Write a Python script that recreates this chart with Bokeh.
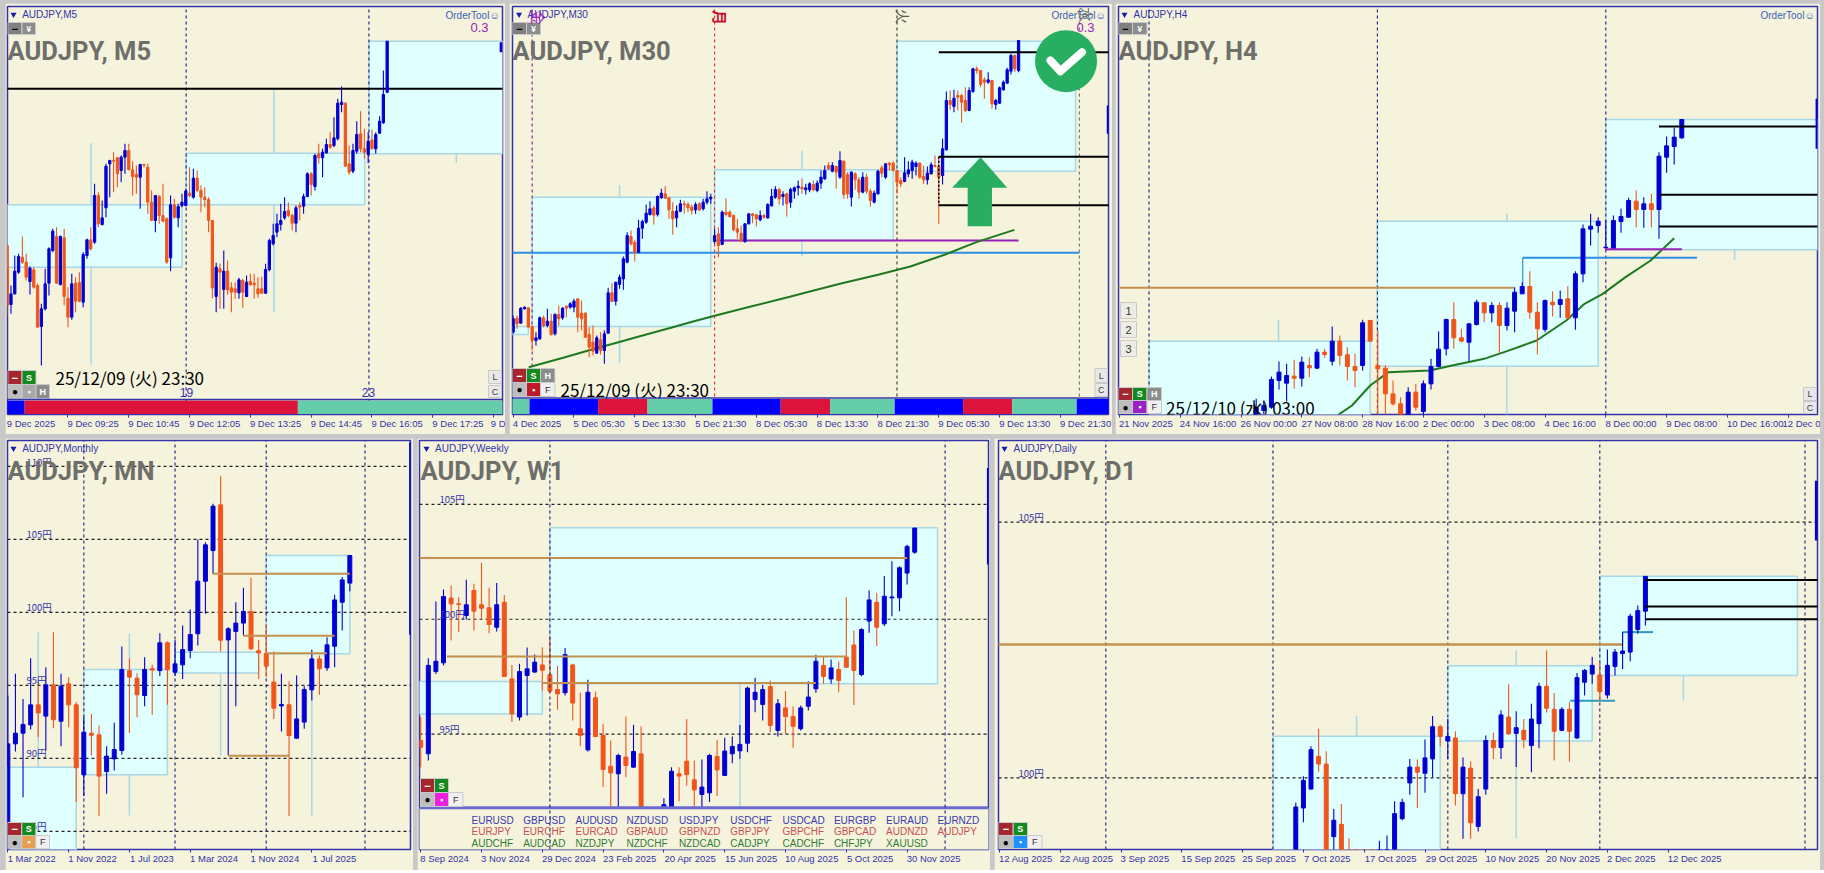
from bokeh.plotting import figure, ColumnDataSource
from bokeh.layouts import column, row
from bokeh.models import Range1d, FixedTicker, LinearAxis
from bokeh.core.properties import value
from bokeh.embed import file_html
from bokeh.resources import INLINE

# ---------- data (intraday panels are in points above 100.000 yen) ----------
m5_open = [3265,3088,3120,3185,3230,3215,3157,3192,3145,3022,3075,3152,3250,3292,3148,3288,3107,3050,3152,3154,3095,3235,3282,3275,3415,3328,3378,3510,3520,3528,3490,3530,3550,3492,3478,3470,3508,3500,3395,3340,3413,3355,3345,3228,3387,3348,3385,3385,3422,3410,3467,3430,3410,3403,3340,3112,3195,3133,3188,3138,3135,3123,3160,3112,3157,3152,3135,3135,3122,3192,3270,3305,3328,3348,3370,3355,3332,3385,3383,3412,3480,3442,3540,3528,3543,3568,3565,3585,3688,3692,3510,3488,3548,3600,3555,3538,3582,3555,3602,3633,3725]
m5_high = [3270,3145,3235,3240,3292,3240,3203,3200,3150,3090,3195,3260,3315,3320,3295,3315,3140,3180,3170,3185,3245,3285,3320,3450,3425,3400,3510,3522,3545,3530,3535,3570,3570,3518,3505,3510,3510,3510,3430,3415,3415,3450,3350,3415,3405,3390,3420,3435,3500,3495,3490,3445,3440,3410,3340,3213,3210,3250,3220,3155,3155,3168,3165,3175,3180,3180,3170,3172,3210,3285,3330,3360,3390,3410,3395,3360,3385,3395,3420,3485,3485,3540,3570,3555,3585,3605,3650,3705,3742,3695,3565,3570,3638,3668,3615,3605,3612,3605,3653,3790,3878]
m5_low = [3055,3060,3118,3180,3210,3160,3118,3135,3020,2905,3070,3115,3245,3150,3145,3085,3020,3042,3065,3095,3080,3225,3250,3270,3320,3325,3350,3410,3425,3440,3455,3480,3490,3415,3420,3375,3500,3360,3338,3305,3330,3335,3210,3188,3345,3320,3380,3382,3410,3405,3425,3365,3380,3305,3107,3065,3075,3075,3117,3065,3105,3105,3078,3110,3145,3105,3108,3120,3120,3188,3265,3290,3310,3342,3350,3310,3305,3340,3360,3410,3415,3430,3510,3470,3540,3555,3560,3580,3665,3502,3477,3482,3540,3545,3525,3512,3553,3540,3600,3630,3722]
m5_close = [3085,3120,3188,3232,3215,3170,3197,3140,3020,3075,3150,3255,3308,3152,3292,3112,3050,3150,3098,3098,3238,3282,3255,3415,3330,3348,3503,3520,3518,3480,3530,3550,3493,3472,3470,3508,3506,3395,3340,3415,3355,3338,3215,3387,3350,3382,3395,3428,3415,3467,3430,3410,3403,3340,3138,3200,3185,3188,3132,3125,3125,3162,3125,3155,3147,3147,3120,3122,3193,3280,3295,3330,3340,3367,3355,3332,3378,3380,3412,3480,3448,3535,3528,3545,3568,3560,3588,3692,3695,3503,3485,3550,3598,3555,3545,3578,3555,3598,3638,3718,3878]

m30_open = [3005,3047,3032,3075,3078,3022,2980,2985,3048,3025,3038,3000,3058,3048,3083,3080,3080,3105,3062,3062,2998,2975,2942,2982,2950,3002,3123,3098,3148,3165,3215,3292,3275,3245,3317,3335,3358,3378,3358,3408,3420,3408,3368,3348,3368,3390,3388,3380,3372,3390,3375,3395,3405,3277,3300,3268,3365,3365,3355,3315,3302,3277,3330,3360,3357,3342,3355,3348,3384,3410,3433,3412,3420,3395,3428,3438,3440,3432,3432,3448,3430,3452,3465,3505,3488,3502,3470,3518,3478,3410,3480,3462,3425,3470,3428,3395,3420,3498,3470,3512,3512,3490,3460,3457,3480,3490,3502,3512,3472,3462,3480,3505,3502,3475,3552,3700,3682,3715,3715,3700,3670,3727,3795,3790,3762,3755,3760,3688,3692,3732,3752,3788,3835,3790]
m30_high = [3055,3055,3080,3082,3080,3025,3005,3052,3055,3075,3060,3062,3085,3080,3085,3095,3105,3107,3100,3065,3020,3025,2995,3005,3010,3138,3152,3155,3178,3232,3305,3310,3282,3342,3342,3388,3398,3385,3415,3435,3443,3410,3395,3385,3402,3400,3395,3388,3395,3395,3405,3428,3420,3315,3320,3370,3407,3370,3358,3345,3325,3332,3362,3362,3360,3370,3360,3392,3435,3443,3438,3428,3423,3438,3442,3460,3467,3450,3455,3460,3460,3490,3505,3515,3515,3505,3548,3520,3485,3488,3485,3470,3485,3480,3435,3430,3492,3505,3512,3515,3518,3490,3470,3530,3518,3522,3518,3515,3505,3502,3515,3535,3532,3585,3727,3730,3732,3730,3720,3740,3740,3798,3802,3792,3770,3785,3762,3705,3742,3760,3798,3840,3838,3880]
m30_low = [3000,3015,3030,3073,3020,2950,2965,2982,3020,3020,2995,2995,3025,3042,3050,3075,3065,3005,3010,2988,2930,2935,2940,2938,2910,3000,3095,3085,3135,3132,3212,3265,3217,3242,3285,3330,3355,3328,3352,3405,3405,3345,3297,3320,3365,3360,3365,3358,3360,3368,3370,3388,3390,3270,3230,3268,3352,3348,3308,3285,3275,3273,3328,3332,3322,3338,3345,3345,3382,3405,3388,3385,3352,3378,3405,3415,3420,3418,3425,3428,3425,3435,3462,3490,3485,3435,3465,3405,3405,3382,3432,3405,3422,3420,3382,3392,3418,3470,3465,3490,3488,3420,3440,3455,3470,3465,3475,3465,3450,3448,3478,3500,3330,3448,3550,3672,3665,3670,3633,3665,3668,3723,3780,3740,3705,3750,3675,3673,3690,3730,3750,3778,3785,3785]
m30_close = [3045,3030,3077,3080,3020,2980,2988,3048,3025,3038,2998,3058,3045,3077,3077,3090,3098,3050,3045,2990,2960,2948,2988,2950,3000,3123,3097,3155,3170,3225,3295,3270,3245,3317,3337,3362,3375,3356,3412,3422,3407,3372,3345,3368,3390,3387,3378,3370,3388,3372,3395,3405,3410,3295,3265,3365,3358,3352,3312,3305,3280,3330,3360,3355,3345,3355,3350,3388,3412,3433,3405,3418,3390,3433,3438,3443,3435,3438,3450,3432,3452,3470,3490,3495,3505,3485,3520,3418,3420,3485,3462,3425,3470,3428,3400,3422,3488,3482,3510,3508,3490,3455,3450,3483,3492,3515,3512,3470,3462,3482,3507,3502,3470,3555,3700,3688,3707,3710,3695,3670,3730,3795,3790,3748,3755,3762,3690,3700,3738,3755,3792,3835,3795,3880]
m30_ma_bar = [4.1,13.4,20.5,27.7,33.8,42,47.1,53.3,61.5,72.8,75.8,86,96.3,104.5,113.7,121.9,131.9]
m30_ma = [2900,2929,2952,2975,2994,3020,3036,3055,3079,3111,3120,3150,3178,3202,3238,3275,3312]

h4_open = [2757,2770,2780,2860,2852,2873,2867,2905,2897,2945,2918,2978,2937,2902,2905,3040,2905,2897,2820,2790,2757,2825,2767,2850,2902,2955,3043,2988,2975,3028,3093,3063,3085,3025,3068,3120,3142,3065,3013,3095,3088,3105,3048,3180,3314,3325,3258,3255,3337,3350,3398,3373,3390,3373,3530,3562,3588]
h4_high = [2805,2800,2872,2917,2910,2922,2932,2930,2955,2955,3022,2995,2960,2940,3042,3042,3010,2905,2860,2810,2840,2850,2860,2925,3007,3045,3095,3015,3032,3102,3095,3095,3095,3095,3140,3155,3188,3095,3103,3128,3130,3143,3188,3328,3360,3350,3340,3355,3375,3408,3430,3410,3420,3545,3592,3618,3643]
h4_low = [2740,2740,2775,2833,2797,2835,2842,2870,2895,2928,2905,2905,2860,2840,2890,2978,2757,2757,2785,2740,2740,2770,2750,2833,2900,2935,2955,2975,2917,3025,3035,3035,2942,3010,3005,3120,3045,2938,3005,3052,3048,3045,3012,3155,3265,3303,3255,3252,3303,3348,3320,3318,3320,3285,3483,3508,3585]
h4_close = [2778,2785,2863,2885,2875,2867,2915,2898,2945,2938,2978,2935,2902,2890,3033,2978,2895,2820,2790,2757,2825,2780,2850,2902,2954,3043,2988,2978,3030,3095,3063,3085,3025,3077,3125,3142,3065,3015,3100,3087,3103,3048,3180,3315,3323,3338,3260,3340,3352,3400,3373,3390,3373,3533,3564,3590,3643]
h4_ma_bar = [10.8,12.6,15,17.4,22.8,25.8,30,33,36.9,40.8,43.2,45.6,48.6,51.9,55]
h4_ma = [2757,2785,2845,2885,2890,2905,2925,2948,2980,3040,3090,3120,3170,3220,3287]

mn_open = [81.75,91.00,91.73,92.30,93.67,92.90,95.04,92.55,95.11,93.67,88.88,91.73,91.62,89.11,89.97,90.54,96.02,95.50,94.31,96.14,96.02,97.92,95.91,96.41,97.39,98.54,102.14,104.24,107.37,98.12,98.70,99.27,100.07,97.37,97.21,95.23,93.60,93.67,91.39,92.49,94.70,96.82,96.21,97.69,100.70,102.01]
mn_high = [94.31,95.80,94.08,96.87,95.23,96.25,98.65,95.80,95.57,93.86,92.83,93.05,92.26,90.84,92.44,97.67,96.87,95.84,96.94,96.41,98.58,98.03,98.12,99.11,100.20,105.00,104.81,107.44,109.33,98.99,100.70,101.69,102.37,98.12,99.15,97.33,95.80,95.29,95.68,94.95,97.44,97.05,98.31,101.21,102.42,103.90]
mn_low = [80.16,90.48,87.35,91.98,91.46,90.54,92.07,90.84,92.14,87.01,87.42,90.20,86.05,87.58,89.17,90.25,91.75,92.83,93.58,92.99,95.64,93.67,95.64,95.45,96.87,97.74,99.91,102.65,97.33,90.20,93.58,98.42,97.44,95.45,95.57,92.71,91.85,86.05,91.34,92.03,93.97,94.36,96.00,96.25,98.76,101.46]
mn_close = [91.00,91.73,92.33,93.67,93.12,95.04,92.65,94.95,93.67,89.36,91.80,91.59,88.79,90.16,90.61,96.09,95.57,94.36,96.09,96.05,97.92,96.07,96.48,97.46,98.49,102.14,104.63,107.28,98.10,98.88,99.27,100.07,97.51,97.23,96.32,93.44,93.70,91.57,92.71,94.72,96.82,96.14,97.78,100.86,102.23,103.90]

w1_open = [94.72,94.14,97.72,98.10,100.92,100.67,100.16,101.25,100.63,100.50,99.65,100.74,97.40,95.74,97.55,97.70,98.01,97.58,96.94,96.80,98.01,95.23,94.31,96.58,94.94,93.60,93.27,94.00,93.56,94.14,89.71,90.15,91.45,91.16,93.27,93.82,93.01,92.37,92.44,94.02,93.20,94.14,94.27,94.60,96.50,96.29,97.07,95.16,96.14,95.76,95.23,96.21,96.97,97.99,97.40,97.81,98.35,98.88,97.59,99.92,100.74,99.80,100.93,100.93,102.01,102.92]
w1_high = [95.74,98.30,100.77,101.29,101.47,100.96,101.72,101.54,102.46,101.37,101.58,101.06,98.01,98.06,98.77,98.46,98.78,99.22,97.96,98.75,98.06,96.80,97.36,96.85,95.45,94.72,94.14,95.76,95.40,95.33,91.02,91.16,92.21,93.56,93.56,95.66,93.85,93.89,94.14,94.75,94.84,94.89,95.40,97.07,97.45,97.14,97.33,96.53,96.87,96.20,96.24,97.30,98.45,98.39,98.25,98.16,100.96,99.51,99.61,101.25,101.15,101.88,102.53,102.31,103.24,103.97]
w1_low = [93.56,93.85,97.62,97.99,99.07,99.44,99.99,99.51,100.02,99.39,99.47,97.48,95.52,95.59,95.81,97.67,96.90,96.82,96.06,96.68,95.59,94.47,94.24,94.87,92.69,91.45,91.31,93.12,93.53,90.58,89.42,89.71,90.87,91.09,92.08,92.76,91.82,91.67,92.04,92.30,93.17,93.73,93.92,94.21,95.95,95.59,95.08,94.89,95.01,94.40,95.16,96.03,96.80,97.19,97.19,96.82,97.88,96.27,97.52,99.41,98.83,99.70,100.13,100.35,101.51,102.85]
w1_close = [94.43,97.99,98.17,100.99,100.67,100.64,100.63,100.35,100.48,99.77,100.63,97.51,95.88,97.72,97.84,98.13,97.78,96.87,96.75,98.46,96.35,94.94,96.82,94.89,93.46,93.31,94.07,93.63,94.24,90.87,90.58,90.87,91.93,93.38,93.17,93.24,92.57,92.69,94.07,93.44,94.26,94.46,94.55,97.00,96.82,96.94,95.37,96.32,95.76,95.34,96.14,96.61,98.17,97.51,97.88,97.33,97.91,97.77,99.55,100.84,99.65,101.00,100.97,102.24,103.17,103.97]

d1_open = [98.35,99.41,99.78,100.42,100.27,98.85,99.09,98.55,98.48,98.48,98.48,98.29,98.29,98.29,99.20,99.90,100.21,100.09,100.37,101.00,100.72,100.78,99.69,100.19,99.05,99.78,100.73,100.59,101.19,100.87,100.93,100.63,101.06,101.79,101.34,100.93,101.34,100.78,101.87,102.03,102.01,101.62,102.18,102.43,102.46,102.90,103.26]
d1_high = [99.52,100.03,100.62,100.96,100.52,99.39,99.49,98.82,98.48,98.48,98.61,98.77,98.87,99.54,99.59,100.37,100.36,100.75,101.21,101.04,101.15,100.91,100.40,100.32,99.78,100.83,100.88,101.32,101.83,101.30,101.15,101.45,101.86,102.49,101.66,101.38,101.48,102.05,102.13,102.37,102.26,102.51,102.52,102.85,103.21,103.37,103.94]
d1_low = [98.29,99.13,99.77,100.12,98.22,98.22,98.29,98.22,98.22,98.22,98.29,98.22,98.22,98.22,99.17,99.67,99.41,99.71,100.01,100.62,100.37,99.46,98.81,98.81,98.95,99.67,100.37,100.37,100.84,100.21,100.58,100.11,100.58,101.28,100.34,100.91,100.32,100.76,101.61,101.84,101.51,101.55,102.00,102.13,102.28,102.82,102.98]
d1_close = [99.43,99.95,100.55,100.27,98.22,99.17,98.35,98.42,98.35,98.35,98.35,98.42,98.42,99.30,99.52,100.21,100.11,100.39,101.00,100.81,100.81,99.69,100.21,99.12,99.63,100.73,100.59,101.23,100.86,100.98,100.75,101.15,101.79,101.36,100.91,101.34,100.91,101.96,102.10,102.20,101.69,102.20,102.46,102.48,103.16,103.27,103.94]

# boxes: left bar, right bar, top, bottom
m5_boxes = [(-5,46,3387,3200),(47.1,94.1,3542,3387),(95.2,135,3878,3540)]
m5_box_wicks = [(22.1,3572,2908),(70.2,3735,3065),(118.2,3878,3513)]
m30_boxes = [(-5,4,3022,2998),(5,52,3410,3022),(53,100,3492,3280),(101,148,3878,3488)]
m30_box_wicks = [(28,3445,2912),(76,3550,3232)]
h4_boxes = [(-14.1,15,2978,2700),(15.95,45,3338,2903),(46,76.7,3643,3252)]
h4_box_wicks = [(2.94,3042,2978),(32.97,3362,2757),(62.95,3252,3222)]
mn_boxes = [(-3,9,89.40,82.44),(10,21,96.09,88.88),(22,33,97.28,95.86),(34,45,103.90,97.17)]
mn_box_wicks = [(4,98.65,89.40),(16,98.54,86.09),(28,97.28,90.20),(40,97.44,86.09),(9,89.40,82.44)]
w1_boxes = [(-3,16,97.29,95.87),(17,68,103.98,97.19)]
w1_box_wicks = [(42,97.19,91.79)]
d1_boxes = [(-3,19,100.815,98.22),(20,39,102.19,100.72),(40,66,103.94,102.00)]
d1_box_wicks = [(8,101.21,100.815),(29,102.49,98.82),(51,102.00,101.51)]

m5_sessions = [(-1,4.6,"#0000FF"),(4.6,76.5,"#DC143C"),(76.5,131,"#66CDAA")]
m30_sessions = [(-1,4.3,"#66CDAA"),(4.3,22.35,"#0000FF"),(22.35,35.35,"#DC143C"),(35.35,52.45,"#66CDAA"),(52.45,70.4,"#0000FF"),(70.4,83.4,"#DC143C"),(83.4,100.4,"#66CDAA"),(100.4,118.4,"#0000FF"),(118.4,131.3,"#DC143C"),(131.3,148.3,"#66CDAA"),(148.3,158,"#0000FF")]

m5_ticks = ["9 Dec 2025","9 Dec 09:25","9 Dec 10:45","9 Dec 12:05","9 Dec 13:25","9 Dec 14:45","9 Dec 16:05","9 Dec 17:25","9 D"]
m30_ticks = ["4 Dec 2025","5 Dec 05:30","5 Dec 13:30","5 Dec 21:30","8 Dec 05:30","8 Dec 13:30","8 Dec 21:30","9 Dec 05:30","9 Dec 13:30","9 Dec 21:30"]
h4_ticks = ["21 Nov 2025","24 Nov 16:00","26 Nov 00:00","27 Nov 08:00","28 Nov 16:00","2 Dec 00:00","3 Dec 08:00","4 Dec 16:00","8 Dec 00:00","9 Dec 08:00","10 Dec 16:00","12 Dec 0"]
mn_ticks = ["1 Mar 2022","1 Nov 2022","1 Jul 2023","1 Mar 2024","1 Nov 2024","1 Jul 2025"]
w1_ticks = ["8 Sep 2024","3 Nov 2024","29 Dec 2024","23 Feb 2025","20 Apr 2025","15 Jun 2025","10 Aug 2025","5 Oct 2025","30 Nov 2025"]
d1_ticks = ["12 Aug 2025","22 Aug 2025","3 Sep 2025","15 Sep 2025","25 Sep 2025","7 Oct 2025","17 Oct 2025","29 Oct 2025","10 Nov 2025","20 Nov 2025","2 Dec 2025","12 Dec 2025"]

symbols_row1 = ["EURUSD","GBPUSD","AUDUSD","NZDUSD","USDJPY","USDCHF","USDCAD","EURGBP","EURAUD","EURNZD"]
symbols_row2 = ["EURJPY","EURCHF","EURCAD","GBPAUD","GBPNZD","GBPJPY","GBPCHF","GBPCAD","AUDNZD","AUDJPY"]
symbols_row3 = ["AUDCHF","AUDCAD","NZDJPY","NZDCHF","NZDCAD","CADJPY","CADCHF","CHFJPY","XAUUSD",""]

# ---------- style ----------
BG = "#F5F3DC"; AX = "#3333AA"; UP = "#0000D2"; DN = "#F0561C"
BOXF = "#E0FFFF"; BOXL = "#A8D8E6"; PERU = "#C4904E"; NAVY = "#2A2A80"
GREEN = "#1E7A1E"; SKY = "#2E8FE0"; PURP = "#9A22B8"; ARROW = "#27AE60"
SANS = "Liberation Sans"; CJK = "Noto Sans CJK JP"
TICK_PX = 9.5


def label_px(s):
    # approximate width of a tick label, to place its left end at the tick
    w = 0.0
    for ch in s:
        if ch.isdigit():
            w += 0.556
        elif ch in " :":
            w += 0.278
        elif ch.isupper():
            w += 0.69
        elif ch == "l":
            w += 0.222
        else:
            w += 0.5
    return w * TICK_PX


class Panel:
    def __init__(self, fig_box, frame, px0, sp, v0, py0, k, ticks, first, step, margin, body):
        fx0, fy0, fx1, fy1 = fig_box
        L, T, R, B = frame
        self.px0, self.sp, self.v0, self.py0, self.k, self.body = px0, sp, v0, py0, k, body
        self.L, self.R, self.T, self.B = L, R, T, B
        self.p = figure(width=fx1 - fx0, height=fy1 - fy0, output_backend="svg", toolbar_location=None,
                        x_range=Range1d(self.dx(L), self.dx(R)), y_range=Range1d(self.dy(B), self.dy(T)),
                        y_axis_location=None, min_border_left=L - fx0, min_border_right=fx1 - R,
                        min_border_top=T - fy0, min_border_bottom=fy1 - B, margin=margin,
                        background_fill_color=BG, border_fill_color=BG, outline_line_color=AX,
                        outline_line_width=1.5)
        p = self.p
        p.grid.visible = False
        pos = [first + i * step for i in range(len(ticks))]
        ax = p.xaxis[0]
        ax.ticker = FixedTicker(ticks=pos)
        ax.major_label_overrides = {q: "" for q in pos}
        ax.major_label_text_font_size = "1px"
        ax.major_label_standoff = 0
        ax.major_tick_in = 0
        ax.major_tick_out = 3
        ax.major_tick_line_color = AX
        ax.minor_tick_line_color = None
        ax.axis_line_color = None
        # tick texts start at their tick: a second axis carries them, centred half a label further right
        lab_pos = [q + label_px(s) / 2 / sp for q, s in zip(pos, ticks)]
        lab = LinearAxis(ticker=FixedTicker(ticks=lab_pos),
                         major_label_overrides=dict(zip(lab_pos, ticks)),
                         major_label_text_font=SANS, major_label_text_font_size=f"{TICK_PX}px",
                         major_label_text_color=AX, major_label_standoff=0,
                         major_tick_line_color=None, minor_tick_line_color=None, axis_line_color=None,
                         major_tick_in=0, major_tick_out=0)
        p.add_layout(lab, "below")

    def dx(self, px):
        return (px - self.px0) / self.sp

    def dy(self, py):
        return self.v0 - self.k * (py - self.py0)

    def boxes(self, boxes, wicks):
        p = self.p
        for x, t, b in wicks:
            p.segment(x, t, x, b, line_color=BOXL, line_width=1.5)
        for x0, x1, t, b in boxes:
            p.quad(left=x0, right=x1, top=t, bottom=b, fill_color=BOXF, line_color=BOXL, line_width=1.5)

    def seg(self, x0, x1, y0, y1, color, width=2, dash="solid"):
        self.p.segment(x0, y0, x1, y1, line_color=color, line_width=width, line_dash=dash)

    def vlines(self, xs, color=NAVY):
        ya, yb = self.dy(self.B), self.dy(self.T)
        for x in xs:
            self.seg(x, x, ya, yb, color, 1.2, "3 3")

    def hgrid(self, ys):
        xa, xb = self.dx(self.L), self.dx(self.R)
        for y in ys:
            self.seg(xa, xb, y, y, "#222222", 1.2, "3 3")

    def candles(self, o, h, l, c):
        n = len(o)
        cols = [UP if c[i] >= o[i] else DN for i in range(n)]
        src = ColumnDataSource(dict(x=list(range(n)), h=h, l=l, t=[max(a, b) for a, b in zip(o, c)],
                                    b=[min(a, b) for a, b in zip(o, c)], col=cols))
        self.p.segment("x", "h", "x", "l", source=src, line_color="col", line_width=1.1)
        self.p.vbar("x", self.body, "t", "b", source=src, fill_color="col", line_color="col", line_width=1)

    def text(self, px, py, s, size, color, font=SANS, align="left", style="normal", angle=0):
        self.p.text([self.dx(px)], [self.dy(py)], text=[s], text_font=value(font),
                    text_font_size=f"{size}px", text_color=color, text_align=align,
                    text_baseline="middle", text_font_style=style, angle=angle)

    def btn(self, x0, y0, x1, y1, fill, s="", tc="white", size=10, style="bold", font=SANS):
        self.p.quad(left=self.dx(x0), right=self.dx(x1), top=self.dy(y0), bottom=self.dy(y1),
                    fill_color=fill, line_color="#C9C9C9", line_width=1)
        if s:
            self.text((x0 + x1) / 2, (y0 + y1) / 2, s, size, tc, font, "center", style)

    def header(self, tri, tx, y, label):
        self.p.scatter([self.dx(tri)], [self.dy(y)], marker="inverted_triangle", size=6, color="#1A1AB0", line_color=None)
        self.text(tx, y, label, 10, AX)

    def title(self, x, y, s):
        self.text(x, y, s, 25.5, "#6E6E6A", "Roboto", style="bold")

    def panel_btn(self, xs, y0, y1, y2, dot, third):
        a, b, c, d = xs
        self.btn(a, y0, b, y1, "#A6262E", "\u2212", "white", 11)
        self.btn(b, y0, c, y1, "#138A1E", "S", "white", 9)
        if third == "H":
            self.btn(c, y0, d, y1, "#8C8C8C", "H", "white", 9)
        self.btn(a, y1, b, y2, "#BDBDBD", "\u25CF", "#000000", 10)
        self.btn(b, y1, c, y2, dot, "\u25AA", "white", 9)
        if third == "H2":
            self.btn(c, y1, d, y2, "#8C8C8C", "H", "white", 9)
        else:
            self.btn(c, y1, d, y2, "#F0F0F0", "F", "#333333", 9, "normal")


def panel_top(fig_box, frame, px0, sp, ticks, first, step, margin):
    return Panel(fig_box, frame, px0, sp, 4000, 0, 3, ticks, first, step, margin, 0.6 if sp < 5 else 0.52)


def order_tool(P, x, y=15):
    P.text(x, y, "OrderTool\u263A", 10, "#3A5FB8")


def top_btn(P, a, b, c, y0=22, y1=34):
    P.btn(a, y0, b, y1, "#808080", "\u2212", "#000000", 11)
    P.btn(b, y0, c, y1, "#8C8C8C", "\u00A5", "white", 9)


def lc_btn(P, a, b, y0, y1, y2, y3):
    P.btn(a, y0, b, y1, "#E8E8E8", "L", "#444444", 9, "normal")
    P.btn(a, y2, b, y3, "#E8E8E8", "C", "#444444", 9, "normal")


# ---------- M5 ----------
M5 = panel_top((5, 3, 505, 434), (7, 6, 502, 414), 6.67, 3.8, m5_ticks, 0, 16, (3, 0, 0, 5))
M5.boxes(m5_boxes, m5_box_wicks)
M5.vlines([47.1, 95.2])
M5.seg(-1, 131, 3735, 3735, "#000000", 2)
M5.candles(m5_open, m5_high, m5_low, m5_close)
M5.seg(130, 130, 3875, 3845, "#0000D2", 3)
M5.title(7, 50, "AUDJPY, M5")
M5.header(13, 21.7, 14, "AUDJPY,M5")
top_btn(M5, 7.3, 21.5, 35)
order_tool(M5, 445)
M5.text(470, 27, "0.3", 13, "#9A22B8")
M5.text(55, 377, "25/12/09 (\u706B) 23:30", 17, "#000000", CJK)
M5.text(186, 392, "19", 12, AX, align="center")
M5.text(368, 392, "23", 12, AX, align="center")
M5.panel_btn((7.3, 21.5, 35.5, 49), 370, 384, 398, "#A8A8A8", "H2")
lc_btn(M5, 488, 501, 370, 383, 385, 397)
for x0, x1, col in m5_sessions:
    M5.p.quad(left=x0, right=x1, top=M5.dy(400), bottom=M5.dy(413.5), fill_color=col, line_color=None)
M5.seg(-1, 131, M5.dy(399), M5.dy(399), AX, 1.5)

# ---------- M30 ----------
M30 = panel_top((509, 3, 1112, 434), (512, 6, 1108, 414), 512.67, 3.8, m30_ticks, 0, 16, (3, 0, 0, 4))
M30.boxes(m30_boxes, m30_box_wicks)
M30.vlines([5], "#8A2A9A")
M30.vlines([53], "#C83A58")
M30.vlines([101], "#444444")
M30.vlines([149], "#777777")
M30.seg(-1, 149, 3243, 3243, SKY, 2)
M30.seg(53.5, 133, 3280, 3280, PURP, 2)
M30.p.line(m30_ma_bar, m30_ma, line_color=GREEN, line_width=2)
M30.candles(m30_open, m30_high, m30_low, m30_close)
for y in (3845, 3531, 3386):
    M30.seg(112, 158, y, y, "#000000", 2)
M30.seg(112, 112, 3531, 3386, "#000000", 1.5, "2 2")
M30.seg(156.6, 156.6, 3685, 3600, "#0000D2", 3)
M30.p.patch([123, 115.5, 119.6, 119.6, 126, 126, 130], [3530, 3438, 3438, 3323, 3323, 3438, 3438], fill_color=ARROW, line_color=None)
M30.p.scatter([145.5], [3818], size=62, marker="circle", fill_color=ARROW, line_color=None)
M30.p.line([141.4, 144, 149.7], [3820, 3788, 3845], line_color="white", line_width=8, line_cap="round", line_join="round")
M30.title(512, 50, "AUDJPY, M30")
M30.header(518.6, 527, 14, "AUDJPY,M30")
top_btn(M30, 512, 526, 540)
order_tool(M30, 1051)
M30.text(1076, 27, "0.3", 13, "#9A22B8")
M30.text(538, 17, "\u91D1", 15, "#A020C0", CJK, "center", angle=-1.5708)
M30.text(720, 17, "\u6708", 15, "#C8102E", CJK, "center", "bold", angle=-1.5708)
M30.text(903, 16, "\u706B", 15, "#555555", CJK, "center", angle=-1.5708)
M30.text(1086, 14, "\u6C34", 15, "#777777", CJK, "center", angle=-1.5708)
M30.text(560, 389, "25/12/09 (\u706B) 23:30", 17, "#000000", CJK)
M30.panel_btn((512, 526, 540, 554.4), 368, 382, 396, "#C01828", "H")
lc_btn(M30, 1094.5, 1107, 368, 382, 383, 396)
for x0, x1, col in m30_sessions:
    M30.p.quad(left=x0, right=x1, top=M30.dy(398.5), bottom=M30.dy(413.5), fill_color=col, line_color=None)
M30.seg(-1, 158, M30.dy(397.5), M30.dy(397.5), AX, 1.5)

# ---------- H4 ----------
H4 = panel_top((1115, 3, 1820, 434), (1118, 6, 1817, 414), 1255.7, 7.6, h4_ticks, -18, 8, (3, 4, 0, 3))
H4.boxes(h4_boxes, h4_box_wicks)
H4.vlines([-14.1, 15.95, 46])
H4.seg(-19, 33.9, 3138, 3138, PERU, 2)
H4.seg(35.07, 58, 3228, 3228, SKY, 2)
H4.seg(35.07, 35.07, 3228, 3142, SKY, 1.2)
H4.p.line(h4_ma_bar, h4_ma, line_color=GREEN, line_width=2)
H4.candles(h4_open, h4_high, h4_low, h4_close)
H4.seg(45.9, 56, 3254, 3254, PURP, 2)
for y in (3622, 3417, 3322):
    H4.seg(53, 75, y, y, "#000000", 2)
H4.seg(73.8, 73.8, 3705, 3555, "#0000D2", 3)
H4.title(1118, 50, "AUDJPY, H4")
H4.header(1124, 1133, 14, "AUDJPY,H4")
top_btn(H4, 1118, 1132, 1146.5)
order_tool(H4, 1760)
H4.text(1165.6, 407, "25/12/10 (\u6C34) 03:00", 17, "#000000", CJK)
for y0, s in ((302, "1"), (321, "2"), (340, "3")):
    H4.btn(1120, y0, 1136, y0 + 16, "#EDEDE6", s, "#333333", 11, "normal")
H4.panel_btn((1118, 1132, 1146.5, 1161), 387, 400, 413, "#9A22C8", "H")
lc_btn(H4, 1803, 1816, 387, 400, 401, 413)

# ---------- MN ----------
MN = Panel((5, 438, 413, 870), (7, 440, 410, 849), 7.33, 7.6, 112.12, 435, 3 / 43.8, mn_ticks, 0, 8, (4, 0, 0, 5), 0.52)
MN.boxes(mn_boxes, mn_box_wicks)
MN.hgrid([110, 105, 100, 95, 90, 85])
MN.vlines([10, 22, 34, 47])
MN.candles(mn_open, mn_high, mn_low, mn_close)
for a, b, y in ((27, 45, 102.65), (31, 43, 98.40), (34, 42, 97.21), (29, 37, 90.18)):
    MN.seg(a, b, y, y, PERU, 2)
MN.seg(53, 53, 111.66, 98.47, "#0000D2", 3)
for py, s in ((461, "110\u5186"), (533, "105\u5186"), (606.5, "100\u5186"), (679, "95\u5186"), (752, "90\u5186"), (825, "85\u5186")):
    MN.text(26, py, s, 9.5, AX, CJK)
MN.title(7, 470, "AUDJPY, MN")
MN.header(13, 21.7, 448, "AUDJPY,Monthly")
MN.panel_btn((7, 21.3, 35.3, 49), 822, 835, 848.3, "#E8A050", "")

# ---------- W1 ----------
W1 = Panel((417, 438, 990, 870), (419, 440, 988, 849), 420.2, 7.6, 108.0, 435, 3 / 68.9, w1_ticks, 0, 8, (4, 0, 0, 4), 0.52)
W1.boxes(w1_boxes, w1_box_wicks)
W1.hgrid([105, 100, 95])
W1.candles(w1_open, w1_high, w1_low, w1_close)
for a, b, y in ((-3, 64, 102.67), (3.45, 56, 98.38), (16, 52, 97.22)):
    W1.seg(a, b, y, y, PERU, 2)
W1.seg(74.7, 74.7, 106.59, 102.38, "#0000D2", 3)
W1.p.quad(left=-3, right=80, top=91.79, bottom=80, fill_color=BG, line_color="#6A6AD0", line_width=3)
W1.vlines([17, 69])
for py, s in ((498, "105\u5186"), (613, "100\u5186"), (728, "95\u5186")):
    W1.text(439, py, s, 9.5, AX, CJK)
sym_x = [471, 522.7, 575, 626, 678.4, 729.8, 782, 833.4, 885.6, 937]
for row_y, names, col in ((820, symbols_row1, "#3A3AB0"), (831, symbols_row2, "#C85050"), (842.5, symbols_row3, "#2E7D32")):
    for x, s in zip(sym_x, names):
        if s:
            W1.text(x, row_y, s, 10, col)
W1.title(420, 470, "AUDJPY, W1")
W1.header(426, 434.6, 448, "AUDJPY,Weekly")
W1.panel_btn((420, 434, 448, 462.4), 778, 792, 806, "#F020E0", "")

# ---------- D1 ----------
D1 = Panel((994, 438, 1820, 870), (998, 440, 1817, 849), 1295.3, 7.6, 106.695, 435, 3 / 153.4, d1_ticks, -39, 8, (4, 4, 0, 4), 0.52)
D1.boxes(d1_boxes, d1_box_wicks)
D1.hgrid([105, 100])
D1.vlines([-25, -3, 20, 40, 67])
D1.seg(-40, 43, 102.61, 102.61, PERU, 2.5)
D1.seg(43, 47, 102.85, 102.85, "#3399BB", 2)
D1.seg(43, 43, 102.61, 102.85, "#3399BB", 1)
D1.seg(36.1, 42, 101.51, 101.51, "#3399BB", 2)
D1.candles(d1_open, d1_high, d1_low, d1_close)
for y in (103.87, 103.35, 103.10):
    D1.seg(46, 70, y, y, "#000000", 2)
D1.seg(68.5, 68.5, 105.81, 104.64, "#0000D2", 3)
for py, s in ((516, "105\u5186"), (772, "100\u5186")):
    D1.text(1018, py, s, 9.5, AX, CJK)
D1.title(998, 470, "AUDJPY, D1")
D1.header(1004, 1013, 448, "AUDJPY,Daily")
D1.panel_btn((998, 1012.7, 1027, 1041.6), 822, 835, 848, "#1E90FF", "")

top = row(M5.p, M30.p, H4.p, spacing=0)
bottom = row(MN.p, W1.p, D1.p, spacing=0)
root = column(top, bottom, spacing=0, margin=(0, 0, 0, 0), styles={"background": "#C8C8C8"})
open("out.html", "w").write(file_html(root, INLINE))
